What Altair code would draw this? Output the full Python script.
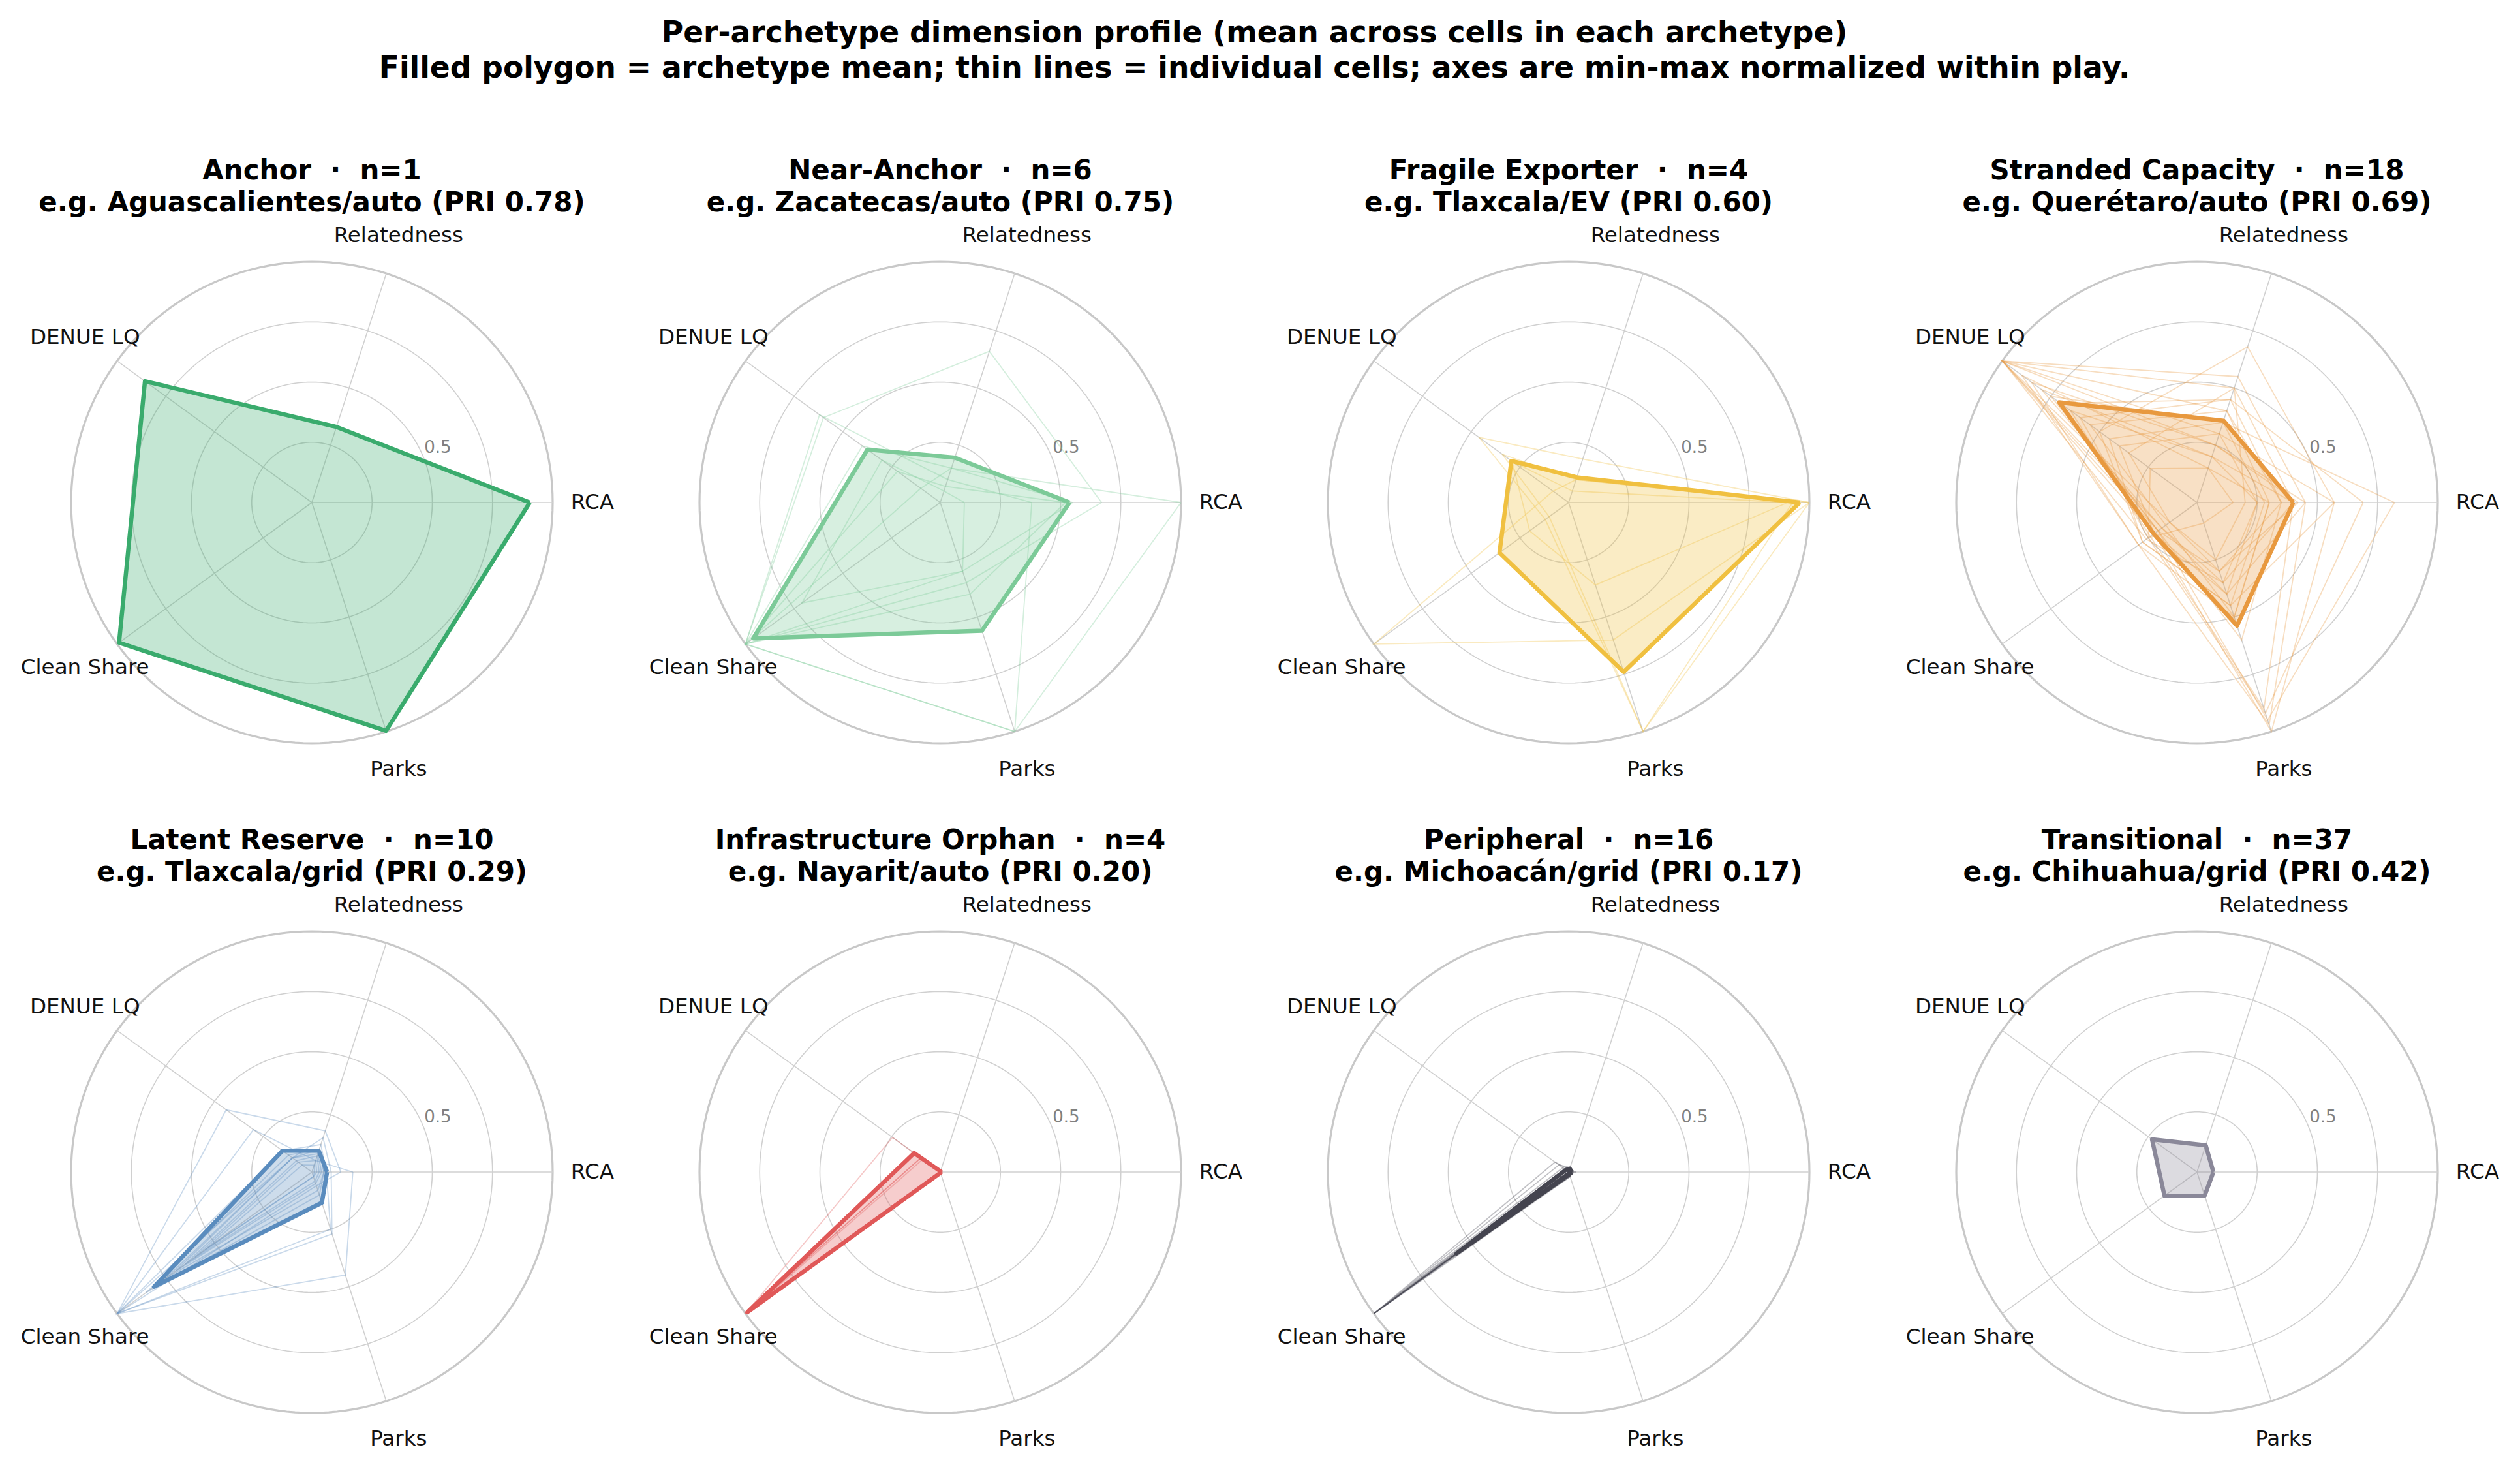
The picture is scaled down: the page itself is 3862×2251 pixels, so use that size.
import altair as alt
import pandas as pd

AXES = ["RCA", "Relatedness", "DENUE LQ", "Clean Share", "Parks"]
ARCHETYPES = ["Anchor", "Near-Anchor", "Fragile Exporter", "Stranded Capacity",
              "Latent Reserve", "Infrastructure Orphan", "Peripheral", "Transitional"]
N_CELLS = [1, 6, 4, 18, 10, 4, 16, 37]
EXAMPLES = ["Aguascalientes/auto", "Zacatecas/auto", "Tlaxcala/EV", "Querétaro/auto",
            "Tlaxcala/grid", "Nayarit/auto", "Michoacán/grid", "Chihuahua/grid"]
EXAMPLE_PRI = ["0.78", "0.75", "0.60", "0.69", "0.29", "0.20", "0.17", "0.42"]
COLORS = ["#3aab6d", "#7cca98", "#f0c040", "#e8993f",
          "#5a8cbe", "#e05858", "#44444f", "#8a8899"]
RING_LEVELS = [0.25, 0.5, 0.75, 1.0]

# archetype means (RCA, Relatedness, DENUE LQ, Clean Share, Parks)
MEAN_ANCHOR = [0.905, 0.33, 0.857, 0.99, 0.997]
MEAN_NEAR_ANCHOR = [0.537, 0.196, 0.374, 0.96, 0.56]
MEAN_FRAGILE = [0.96, 0.11, 0.294, 0.355, 0.74]
MEAN_STRANDED = [0.40, 0.357, 0.708, 0.222, 0.538]
MEAN_LATENT = [0.063, 0.093, 0.151, 0.81, 0.134]
MEAN_INFRA = [0.005, 0.003, 0.134, 0.99, 0.003]
MEAN_PERIPHERAL = [0.014, 0.015, 0.015, 0.575, 0.01]
MEAN_TRANSITIONAL = [0.068, 0.117, 0.231, 0.167, 0.103]

# individual cells
CELLS_ANCHOR = [[0.905, 0.33, 0.857, 0.99, 0.997]]
CELLS_NEAR_ANCHOR = [
    [1.00, 0.15, 0.10, 1.00, 1.00],
    [0.67, 0.66, 0.60, 1.00, 0.35],
    [0.38, 0.10, 0.62, 1.00, 1.00],
    [0.10, 0.05, 0.30, 0.71, 0.30],
    [0.55, 0.15, 0.40, 1.00, 0.30],
    [0.52, 0.07, 0.22, 1.00, 0.40],
]
CELLS_FRAGILE = [
    [1.00, 0.19, 0.46, 0.12, 1.00],
    [1.00, 0.10, 0.08, 1.00, 0.60],
    [0.93, 0.10, 0.34, 0.10, 1.00],
    [0.91, 0.05, 0.29, 0.20, 0.36],
]
CELLS_STRANDED = [
    [0.82, 0.35, 0.75, 0.20, 0.95],
    [0.69, 0.45, 0.60, 0.25, 0.92],
    [0.57, 0.68, 0.50, 0.28, 0.45],
    [0.57, 0.30, 1.00, 0.22, 1.00],
    [0.45, 0.55, 1.00, 0.18, 0.40],
    [0.45, 0.25, 0.85, 0.30, 0.97],
    [0.40, 0.50, 1.00, 0.26, 0.35],
    [0.40, 0.20, 0.65, 0.24, 0.90],
    [0.35, 0.40, 1.00, 0.14, 0.30],
    [0.35, 0.45, 0.70, 0.20, 0.60],
    [0.30, 0.15, 0.90, 0.30, 0.50],
    [0.30, 0.40, 0.55, 0.16, 0.50],
    [0.28, 0.35, 0.45, 0.28, 0.45],
    [0.25, 0.20, 0.80, 0.18, 0.35],
    [0.25, 0.30, 0.40, 0.22, 0.40],
    [0.20, 0.50, 0.35, 0.14, 0.25],
    [0.15, 0.15, 0.24, 0.25, 0.09],
    [0.42, 0.25, 1.00, 0.20, 0.30],
]
CELLS_LATENT = [
    [0.17, 0.05, 0.30, 1.00, 0.45],
    [0.12, 0.18, 0.44, 1.00, 0.06],
    [0.08, 0.15, 0.10, 1.00, 0.27],
    [0.06, 0.12, 0.15, 1.00, 0.25],
    [0.05, 0.10, 0.12, 0.85, 0.10],
    [0.05, 0.10, 0.10, 0.75, 0.08],
    [0.04, 0.08, 0.10, 0.70, 0.05],
    [0.03, 0.07, 0.08, 0.65, 0.04],
    [0.02, 0.05, 0.07, 0.60, 0.02],
    [0.01, 0.03, 0.05, 0.55, 0.02],
]
CELLS_INFRA = [
    [0.00, 0.00, 0.245, 1.00, 0.00],
    [0.01, 0.00, 0.10, 1.00, 0.00],
    [0.00, 0.01, 0.10, 1.00, 0.01],
    [0.01, 0.00, 0.09, 0.96, 0.00],
]
CELLS_PERIPHERAL = [
    [0.02, 0.01, 0.07, 1.00, 0.00],
    [0.00, 0.02, 0.05, 1.00, 0.01],
    [0.01, 0.00, 0.03, 1.00, 0.00],
    [0.00, 0.00, 0.02, 1.00, 0.02],
    [0.03, 0.01, 0.00, 1.00, 0.00],
    [0.00, 0.00, 0.01, 1.00, 0.00],
    [0.01, 0.02, 0.00, 0.90, 0.01],
    [0.00, 0.00, 0.02, 0.80, 0.00],
    [0.02, 0.01, 0.00, 0.60, 0.00],
    [0.00, 0.00, 0.01, 0.50, 0.02],
    [0.01, 0.00, 0.00, 0.30, 0.00],
    [0.00, 0.01, 0.01, 0.10, 0.00],
    [0.01, 0.00, 0.00, 0.00, 0.00],
    [0.00, 0.01, 0.00, 0.00, 0.01],
    [0.00, 0.00, 0.01, 0.00, 0.00],
    [0.01, 0.00, 0.00, 0.00, 0.00],
]
CELLS_TRANSITIONAL = []  # too many cells: not drawn

MEANS = [MEAN_ANCHOR, MEAN_NEAR_ANCHOR, MEAN_FRAGILE, MEAN_STRANDED,
         MEAN_LATENT, MEAN_INFRA, MEAN_PERIPHERAL, MEAN_TRANSITIONAL]
CELLS = [CELLS_ANCHOR, CELLS_NEAR_ANCHOR, CELLS_FRAGILE, CELLS_STRANDED,
         CELLS_LATENT, CELLS_INFRA, CELLS_PERIPHERAL, CELLS_TRANSITIONAL]

# ---- long tables (closing vertex repeated) ----
mean_rows, cell_rows = [], []
for a, name in enumerate(ARCHETYPES):
    for k in range(6):
        mean_rows.append({"arch": name, "k": k, "v": MEANS[a][k % 5]})
    for c, cell in enumerate(CELLS[a]):
        for k in range(6):
            cell_rows.append({"arch": name, "cell": c, "k": k, "v": cell[k % 5]})
mean_df = pd.DataFrame(mean_rows)
cell_df = pd.DataFrame(cell_rows, columns=["arch", "cell", "k", "v"])
ring_df = pd.DataFrame({"r": RING_LEVELS})
axis_df = pd.DataFrame({"k": list(range(5)), "axis": AXES})

PX = 369.0          # pixels per unit radius
PW, PH = 956, 866   # panel plot size
XR = PW / 2 / PX
YR = PH / 2 / PX
FONT = "DejaVu Sans"

xs = alt.Scale(domain=[-XR, XR], nice=False, zero=False)
ys = alt.Scale(domain=[-YR, YR], nice=False, zero=False)
X = alt.X("x:Q", scale=xs, axis=None)
Y = alt.Y("y:Q", scale=ys, axis=None)
POLAR = dict(x="datum.v*cos(datum.k*2*PI/5)", y="datum.v*sin(datum.k*2*PI/5)")


def panel(i, title_offset):
    name = ARCHETYPES[i]
    col = COLORS[i]
    rings = alt.Chart(ring_df).transform_calculate(
        a="sequence(0, 362, 2)"
    ).transform_flatten(["a"]).transform_calculate(
        x="datum.r*cos(datum.a*PI/180)", y="datum.r*sin(datum.a*PI/180)"
    ).mark_line(interpolate="linear").encode(
        x=X, y=Y, detail="r:N", order="a:Q",
        color=alt.condition("datum.r >= 1", alt.value("#c8c8c8"), alt.value("#d0d0d0")),
        strokeWidth=alt.condition("datum.r >= 1", alt.value(3.2), alt.value(1.6)),
    )
    spokes = alt.Chart(axis_df).transform_calculate(
        x0="0", y0="0", x="cos(datum.k*2*PI/5)", y="sin(datum.k*2*PI/5)"
    ).mark_rule(color="#d0d0d0", strokeWidth=1.6).encode(
        x=alt.X("x0:Q", scale=xs, axis=None), y=alt.Y("y0:Q", scale=ys, axis=None),
        x2="x:Q", y2="y:Q",
    )
    labels = alt.Chart(axis_df).transform_calculate(
        x="1.165*cos(datum.k*2*PI/5)", y="1.165*sin(datum.k*2*PI/5)"
    ).mark_text(font=FONT, fontSize=32.6, color="#111111", align="center",
                baseline="middle").encode(x=X, y=Y, text="axis:N")
    rlabel = alt.Chart(ring_df).transform_filter("datum.r == 0.5").transform_calculate(
        x="(datum.r+0.07)*cos(23.5*PI/180)", y="(datum.r+0.07)*sin(23.5*PI/180)"
    ).mark_text(font=FONT, fontSize=26, color="#808080", align="center",
                baseline="middle").encode(x=X, y=Y, text=alt.Text("r:Q", format=".1f"))
    layers = [rings, spokes, labels, rlabel]
    if len(CELLS[i]) > 0:
        cells = alt.Chart(cell_df).transform_filter(
            alt.datum.arch == name
        ).transform_calculate(**POLAR).mark_line(
            color=col, strokeWidth=1.8, opacity=0.33
        ).encode(x=X, y=Y, detail="cell:N", order="k:Q")
        layers.append(cells)
    mean = alt.Chart(mean_df).transform_filter(
        alt.datum.arch == name
    ).transform_calculate(**POLAR).mark_line(
        stroke=col, fill=col, fillOpacity=0.3, strokeWidth=6.5, strokeJoin="round"
    ).encode(x=X, y=Y, order="k:Q")
    layers.append(mean)
    t1 = f"{name}\u00a0\u00a0·\u00a0\u00a0n={N_CELLS[i]}"
    t2 = f"e.g. {EXAMPLES[i]} (PRI {EXAMPLE_PRI[i]})"
    return alt.layer(*layers).properties(
        width=PW, height=PH,
        title=alt.TitleParams(text=[t1, t2], font=FONT, fontSize=42, fontWeight="bold",
                              lineHeight=49.5, color="#000000", anchor="middle",
                              offset=title_offset),
    )


row1 = alt.hconcat(*[panel(i, 4) for i in range(4)], spacing=7)
row2 = alt.hconcat(*[panel(i, 4) for i in range(4, 8)], spacing=7)

chart = alt.vconcat(row1, row2, spacing=63).properties(
    title=alt.TitleParams(
        text=["Per-archetype dimension profile (mean across cells in each archetype)",
              "Filled polygon = archetype mean; thin lines = individual cells; axes are min-max normalized within play."],
        font=FONT, fontSize=45.6, fontWeight="bold", lineHeight=53.5, color="#000000",
        anchor="middle", offset=112),
    padding={"left": 0, "right": 0, "top": 29, "bottom": 0},
    background="white",
).configure_view(stroke=None)

chart.save("out.html", embed_options={"renderer": "svg", "actions": False})
